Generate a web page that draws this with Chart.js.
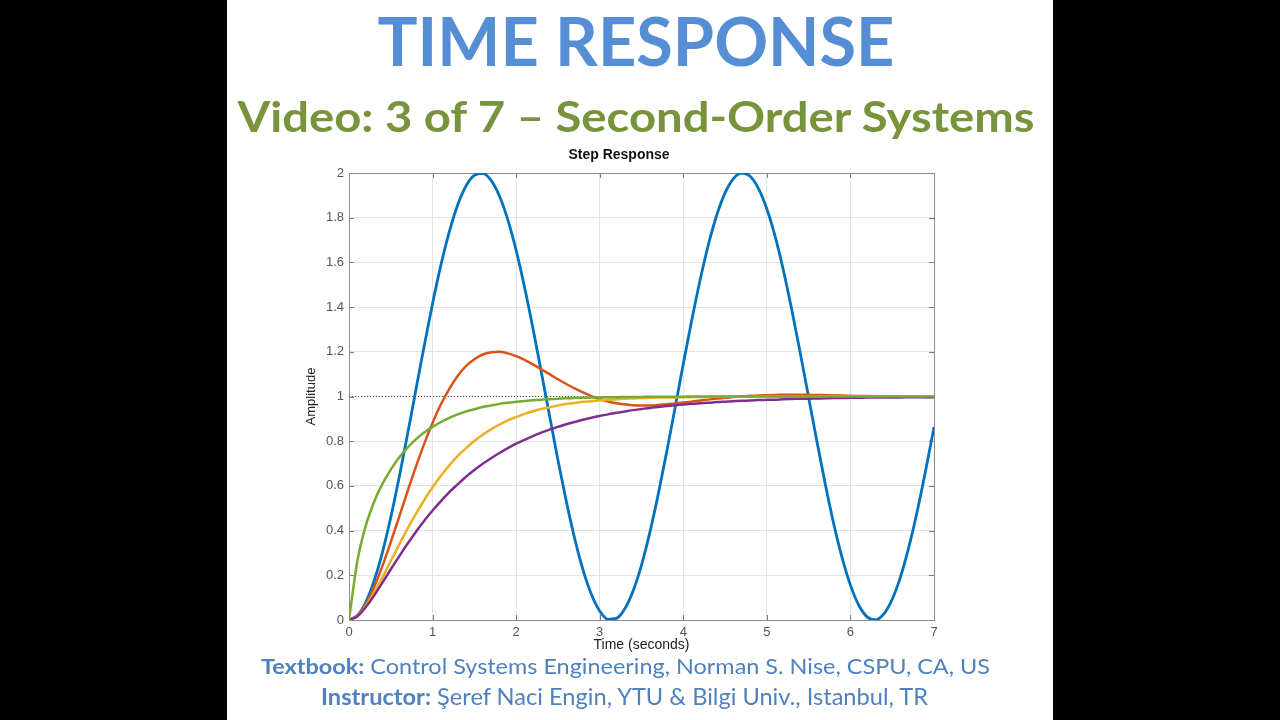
<!DOCTYPE html>
<html>
<head>
<meta charset="utf-8">
<script src="https://cdn.jsdelivr.net/npm/chart.js@4.4.0/dist/chart.umd.min.js"></script>
<style>
html,body{margin:0;padding:0;background:#000;width:1280px;height:720px;overflow:hidden}
#panel{position:absolute;left:227px;top:0;width:826px;height:720px;background:#fff}
#c{position:absolute;left:0;top:0;width:1280px;height:720px}
#ov{position:absolute;left:0;top:0;pointer-events:none}
</style>
</head>
<body>
<div id="panel"></div>
<canvas id="c" width="1280" height="720"></canvas>
<svg id="ov" width="1280" height="720" xmlns="http://www.w3.org/2000/svg">
  <text x="636" y="65.5" text-anchor="middle" font-family="Lato" font-weight="700" font-size="67" fill="#558ED5" textLength="517" lengthAdjust="spacingAndGlyphs">TIME RESPONSE</text>
  <text x="636" y="131.5" text-anchor="middle" font-family="Lato" font-weight="700" font-size="42" fill="#77933C" textLength="797" lengthAdjust="spacingAndGlyphs">Video: 3 of 7 – Second-Order Systems</text>
  <text x="261" y="674" font-family="Lato" font-size="21.5" fill="#4F81BD" textLength="729" lengthAdjust="spacingAndGlyphs"><tspan font-weight="700">Textbook:</tspan> Control Systems Engineering, Norman S. Nise, CSPU, CA, US</text>
  <text x="321" y="705" font-family="Lato" font-size="22.5" fill="#4F81BD" textLength="607" lengthAdjust="spacingAndGlyphs"><tspan font-weight="700">Instructor:</tspan> Şeref Naci Engin, YTU &amp; Bilgi Univ., Istanbul, TR</text>
</svg>
<script>
// ---- data ----
const times = [0,0.1,0.2,0.3,0.4,0.5,0.6,0.7,0.8,0.9,
  1,1.1,1.2,1.3,1.4,1.5,1.6,1.7,1.8,1.9,
  2,2.1,2.2,2.3,2.4,2.5,2.6,2.7,2.8,2.9,
  3,3.1,3.2,3.3,3.4,3.5,3.6,3.7,3.8,3.9,
  4,4.1,4.2,4.3,4.4,4.5,4.6,4.7,4.8,4.9,
  5,5.1,5.2,5.3,5.4,5.5,5.6,5.7,5.8,5.9,
  6,6.1,6.2,6.3,6.4,6.5,6.6,6.7,6.8,6.9,
  7];

const undamped = [0,0.020,0.079,0.175,0.303,0.460,0.638,0.830,1.029,1.227,
  1.416,1.589,1.737,1.857,1.942,1.990,1.998,1.967,1.897,1.791,
  1.654,1.490,1.307,1.112,0.913,0.716,0.532,0.365,0.224,0.115,
  0.040,0.003,0.007,0.050,0.131,0.246,0.392,0.562,0.749,0.946,
  1.146,1.339,1.519,1.679,1.811,1.911,1.975,2.000,1.985,1.930,
  1.839,1.715,1.561,1.385,1.194,0.996,0.797,0.606,0.430,0.279,
  0.156,0.066,0.014,0.001,0.027,0.093,0.194,0.328,0.488,0.669,
  0.863];

const underdamped = [0,0.019,0.070,0.147,0.242,0.349,0.461,0.575,0.685,0.788,
  0.882,0.965,1.034,1.092,1.136,1.167,1.188,1.198,1.200,1.193,
  1.181,1.164,1.144,1.122,1.100,1.077,1.056,1.036,1.018,1.002,
  0.989,0.978,0.970,0.965,0.961,0.960,0.960,0.962,0.965,0.969,
  0.973,0.977,0.982,0.986,0.991,0.994,0.998,1.001,1.003,1.005,
  1.006,1.007,1.008,1.008,1.008,1.007,1.007,1.006,1.005,1.004,
  1.003,1.002,1.002,1.001,1.000,1.000,1.000,0.999,0.999,0.998,
  0.998];

const critical = [0,0.018,0.062,0.122,0.191,0.264,0.337,0.408,0.475,0.537,
  0.594,0.645,0.692,0.733,0.769,0.801,0.829,0.853,0.874,0.893,
  0.908,0.922,0.934,0.944,0.952,0.960,0.966,0.971,0.976,0.979,
  0.983,0.985,0.988,0.990,0.991,0.993,0.994,0.995,0.996,0.996,
  0.997,0.997,0.998,0.998,0.999,0.999,0.999,0.999,0.999,1.000,
  1,1,1,1,1,1,1,1,1,1,
  1,1,1,1,1,1,1,1,1,1,
  1];

const overdamped = [0,0.017,0.057,0.109,0.167,0.227,0.285,0.341,0.394,0.444,
  0.490,0.532,0.572,0.607,0.641,0.671,0.699,0.724,0.747,0.769,
  0.789,0.806,0.823,0.838,0.852,0.864,0.876,0.886,0.896,0.905,
  0.913,0.920,0.927,0.933,0.939,0.944,0.949,0.953,0.957,0.961,
  0.964,0.967,0.970,0.972,0.975,0.977,0.979,0.981,0.982,0.984,
  0.985,0.986,0.988,0.989,0.990,0.990,0.991,0.992,0.993,0.993,
  0.994,0.994,0.995,0.995,0.996,0.996,0.996,0.997,0.997,0.997,
  0.997];

const fastResponse = [0,0.264,0.421,0.528,0.609,0.673,0.727,0.771,0.808,0.839,
  0.864,0.886,0.904,0.920,0.933,0.943,0.953,0.960,0.967,0.972,
  0.976,0.980,0.983,0.986,0.988,0.990,0.992,0.993,0.994,0.995,
  0.996,0.997,0.997,0.998,0.998,0.998,0.999,0.999,0.999,0.999,
  0.999,1,1,1,1,1,1,1,1,1,
  1,1,1,1,1,1,1,1,1,1,
  1,1,1,1,1,1,1,1,1,1,
  1];

const steadyState = [1, 1];
const steadyTimes = [0, 7];
const xTicks = [0,1,2,3,4,5,6,7];
const yTicks = [0,0.2,0.4,0.6,0.8,1,1.2,1.4,1.6,1.8,2];

// ---- chart ----
const pts = vals => vals.map((v,i) => ({x: times[i], y: v}));
const mk = (label, vals, color, width, order) => ({
  label, data: pts(vals), borderColor: color, backgroundColor: color,
  borderWidth: width, pointRadius: 0, fill: false,
  cubicInterpolationMode: 'monotone', order
});

const boxPlugin = {
  id: 'matlabBox',
  beforeDatasetsDraw(chart) {
    const {ctx, chartArea: a, scales: {x, y}} = chart;
    ctx.save();
    ctx.strokeStyle = '#7a7a7a';
    ctx.lineWidth = 1;
    ctx.beginPath();
    xTicks.forEach(v => {
      const px = Math.round(x.getPixelForValue(v)) + 0.5;
      ctx.moveTo(px, a.bottom); ctx.lineTo(px, a.bottom - 5);
      ctx.moveTo(px, a.top); ctx.lineTo(px, a.top + 5);
    });
    yTicks.forEach(v => {
      const py = Math.round(y.getPixelForValue(v)) + 0.5;
      ctx.moveTo(a.left, py); ctx.lineTo(a.left + 5, py);
      ctx.moveTo(a.right, py); ctx.lineTo(a.right - 5, py);
    });
    ctx.stroke();
    ctx.strokeStyle = '#8c8c8c';
    ctx.strokeRect(Math.round(a.left) + 0.5, Math.round(a.top) + 0.5,
                   Math.round(a.right) - Math.round(a.left), Math.round(a.bottom) - Math.round(a.top));
    ctx.restore();
  }
};

new Chart(document.getElementById('c'), {
  type: 'line',
  data: {
    datasets: [
      {label: 'Steady state', data: steadyTimes.map((t,i) => ({x: t, y: steadyState[i]})),
       borderColor: '#555', borderWidth: 1, borderDash: [1, 2], pointRadius: 0, fill: false, order: 10},
      mk('Undamped', undamped, '#0072BD', 2.8, 5),
      mk('Underdamped', underdamped, '#D95319', 2.5, 4),
      mk('Critically damped', critical, '#EDB120', 2.5, 3),
      mk('Overdamped', overdamped, '#7E2F8E', 2.5, 2),
      mk('Fast response', fastResponse, '#77AC30', 2.5, 1)
    ]
  },
  options: {
    responsive: false,
    animation: false,
    events: [],
    layout: {padding: {left: 304, right: 346, top: 146.5, bottom: 66}},
    plugins: {
      legend: {display: false},
      tooltip: {enabled: false},
      title: {
        display: true, text: 'Step Response', color: '#111',
        font: {family: 'Liberation Sans', size: 14, weight: 'bold'},
        padding: {top: 0, bottom: 9.7}
      }
    },
    scales: {
      x: {
        type: 'linear', min: 0, max: 7,
        afterFit: s => { s.height = 34; },
        afterBuildTicks: s => { s.ticks = xTicks.map(v => ({value: v})); },
        ticks: {color: '#555', padding: 5, font: {family: 'Liberation Sans', size: 13},
                callback: v => String(v), maxRotation: 0, autoSkip: false},
        grid: {color: '#e3e3e3', drawTicks: false},
        border: {display: true, color: '#8c8c8c'},
        title: {display: true, text: 'Time (seconds)', color: '#222',
                font: {family: 'Liberation Sans', size: 14}, padding: {top: 0, bottom: 0}}
      },
      y: {
        type: 'linear', min: 0, max: 2,
        afterFit: s => { s.width = 45; },
        afterBuildTicks: s => { s.ticks = yTicks.map(v => ({value: v})); },
        ticks: {color: '#555', padding: 5, font: {family: 'Liberation Sans', size: 13},
                callback: v => String(Number(v.toFixed(1))), autoSkip: false},
        grid: {color: '#e3e3e3', drawTicks: false},
        border: {display: true, color: '#8c8c8c'},
        title: {display: true, text: 'Amplitude', color: '#222',
                font: {family: 'Liberation Sans', size: 13}, padding: {top: 0, bottom: 0}}
      }
    }
  },
  plugins: [boxPlugin]
});
</script>
</body>
</html>
